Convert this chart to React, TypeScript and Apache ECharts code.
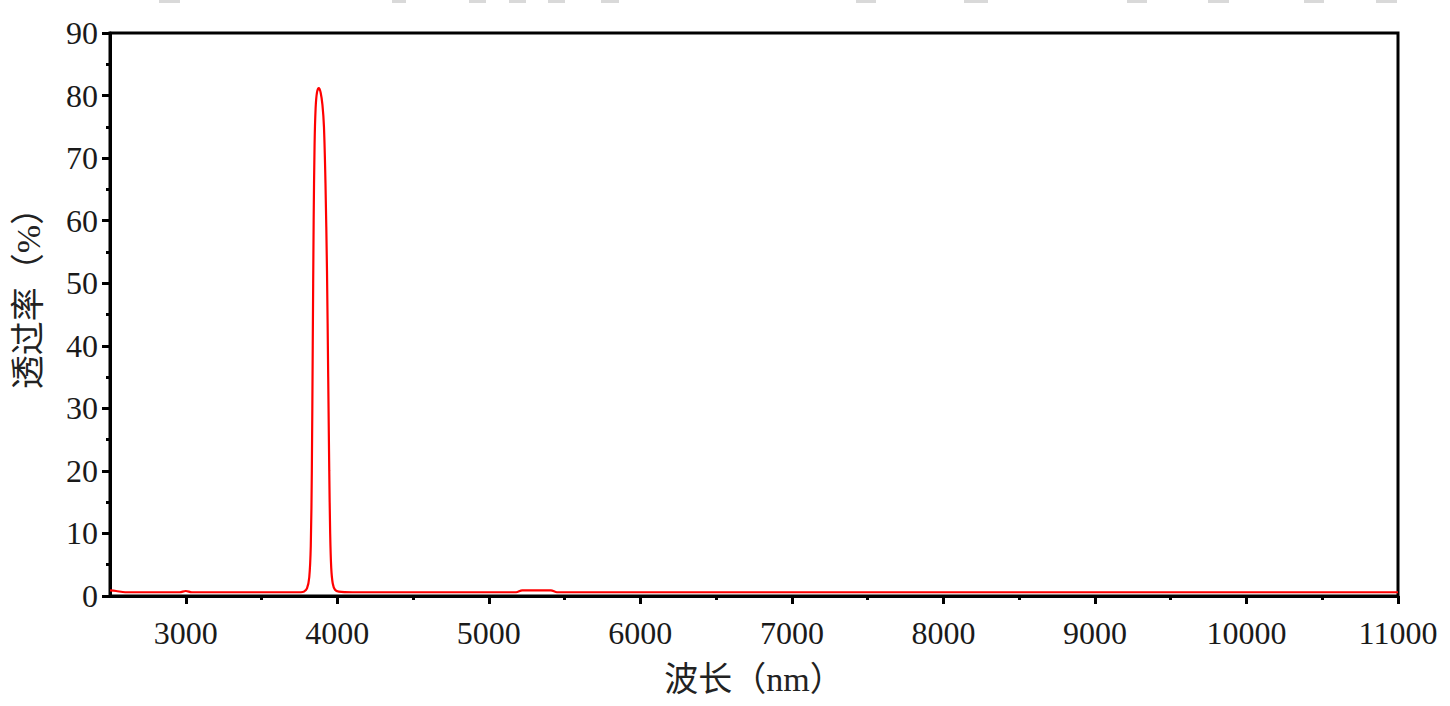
import React, { useEffect, useRef } from "react";
import * as echarts from "echarts";

const wavelengths = [
  2500, 2540, 2600, 2800, 2960, 3000, 3040, 3300, 3600, 3700, 3760, 3780, 3800, 3815, 3825, 3832,
  3838, 3844, 3850, 3857, 3866, 3878, 3890, 3902, 3912, 3922, 3932, 3940, 3947, 3953, 3960,
  3970, 3985, 4010, 4100, 4500, 5000, 5180, 5220, 5300, 5410, 5450, 6000, 7000, 8000, 9000,
  10000, 11000,
];
const transmittance = [
  0.9, 0.8, 0.6, 0.6, 0.6, 0.8, 0.6, 0.6, 0.6, 0.6, 0.6, 0.7, 1.2, 3, 8, 20,
  40, 60, 72, 78, 80.5, 81.2, 80.5, 78.5, 75, 66, 52, 35, 20, 10, 4.5,
  2, 1, 0.7, 0.6, 0.6, 0.6, 0.6, 0.9, 0.9, 0.9, 0.6, 0.6, 0.6, 0.6, 0.6,
  0.6, 0.6,
];
const xMajorTicks = [3000, 4000, 5000, 6000, 7000, 8000, 9000, 10000, 11000];
const xMinorTicks = [3500, 4500, 5500, 6500, 7500, 8500, 9500, 10500];
const xTitle = "波长（nm）";
const yTitle = "透过率（%）";
const topDashes = [
  [159, 180], [392, 406], [469, 486], [509, 526], [548, 565], [601, 619],
  [856, 876], [964, 988], [1127, 1147], [1208, 1229], [1304, 1324], [1376, 1397],
];

const FONT = '"Liberation Serif", "Noto Sans CJK SC", serif';

export default function App() {
  const ref = useRef<HTMLDivElement>(null);
  useEffect(() => {
    if (!ref.current) return;
    const chart = echarts.init(ref.current, null, { renderer: "svg" });
    const data = wavelengths.map((w, i) => [w, transmittance[i]]);
    chart.setOption({
      animation: false,
      backgroundColor: "#fff",
      graphic: [
        ...topDashes.map(([a, b]) => ({
          type: "rect",
          shape: { x: a, y: 0, width: b - a, height: 3 },
          style: { fill: "#d9d9d9" },
          silent: true,
        })),
        {
          type: "text",
          x: 28,
          y: 290,
          rotation: Math.PI / 2,
          style: {
            text: yTitle,
            fontFamily: FONT,
            fontSize: 34,
            fill: "#222",
            align: "center",
            verticalAlign: "middle",
          },
          silent: true,
        },
      ],
      grid: {
        left: 110,
        right: 52,
        top: 33,
        bottom: 110,
        show: true,
        borderColor: "#000",
        borderWidth: 3,
        backgroundColor: "transparent",
      },
      xAxis: [
        {
          type: "value",
          min: 2500,
          max: 11000,
          name: xTitle,
          nameLocation: "middle",
          nameGap: 66,
          nameTextStyle: { fontFamily: FONT, fontSize: 34, color: "#222" },
          axisLine: { show: true, lineStyle: { color: "#000", width: 3 } },
          axisTick: {
            show: true,
            customValues: xMajorTicks,
            length: 8,
            lineStyle: { color: "#000", width: 3 },
          },
          axisLabel: {
            customValues: xMajorTicks,
            margin: 21,
            fontFamily: FONT,
            fontSize: 32,
            color: "#1a1a1a",
            formatter: (v: number) => String(v),
          },
          splitLine: { show: false },
        },
        {
          type: "value",
          min: 2500,
          max: 11000,
          position: "bottom",
          axisLine: { show: false },
          axisTick: {
            show: true,
            customValues: xMinorTicks,
            length: 4,
            lineStyle: { color: "#000", width: 3 },
          },
          axisLabel: { show: false },
          splitLine: { show: false },
        },
      ],
      yAxis: {
        type: "value",
        min: 0,
        max: 90,
        interval: 10,
        axisLine: { show: true, lineStyle: { color: "#000", width: 3 } },
        axisTick: { show: true, length: 8, lineStyle: { color: "#000", width: 3 } },
        minorTick: { show: true, splitNumber: 2, length: 4, lineStyle: { color: "#000", width: 3 } },
        axisLabel: {
          margin: 12,
          fontFamily: FONT,
          fontSize: 32,
          color: "#1a1a1a",
          formatter: (v: number) => String(v),
        },
        splitLine: { show: false },
        minorSplitLine: { show: false },
      },
      series: [
        {
          type: "line",
          data,
          showSymbol: false,
          smooth: 0.3,
          lineStyle: { color: "#ff0000", width: 2.2 },
          itemStyle: { color: "#ff0000" },
          xAxisIndex: 0,
        },
      ],
    });
    return () => chart.dispose();
  }, []);
  return (
    <div
      ref={ref}
      style={{ position: "fixed", left: 0, top: 0, width: 1450, height: 706 }}
    />
  );
}
